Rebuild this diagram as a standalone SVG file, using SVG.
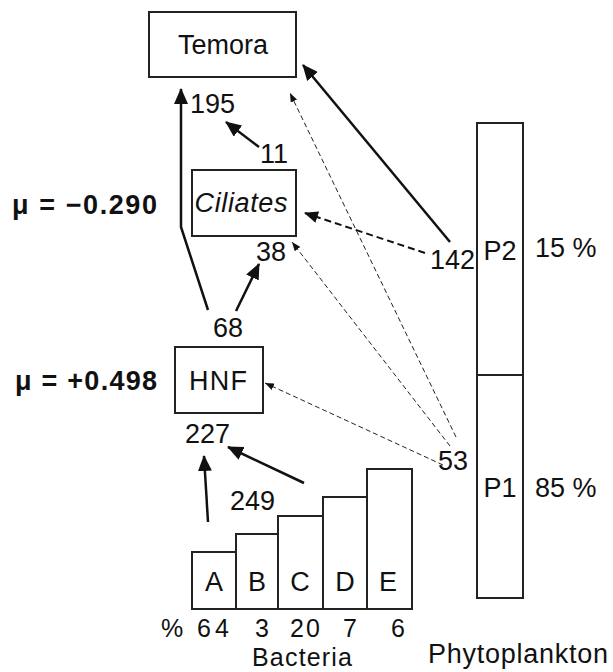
<svg xmlns="http://www.w3.org/2000/svg" width="613" height="672" viewBox="0 0 613 672">
<style>
text{font-family:"Comic Sans MS","Liberation Sans",sans-serif;font-size:27px;fill:#111}
.b{font-weight:bold}
.s{font-size:25px}
.box{fill:#fff;stroke:#222;stroke-width:2}
.solid{fill:none;stroke:#111;stroke-width:2.5}
.dash{fill:none;stroke:#111;stroke-width:2;stroke-dasharray:7 4}
.thin{fill:none;stroke:#222;stroke-width:1;stroke-dasharray:5 3}
</style>
<defs>
<marker id="big" markerUnits="userSpaceOnUse" markerWidth="16" markerHeight="14" refX="15" refY="7" orient="auto"><path d="M0,0 L16,7 L0,14 Z" fill="#111"/></marker>
<marker id="mid" markerUnits="userSpaceOnUse" markerWidth="14" markerHeight="12" refX="13" refY="6" orient="auto"><path d="M0,0 L14,6 L0,12 Z" fill="#111"/></marker>
<marker id="small" markerUnits="userSpaceOnUse" markerWidth="9" markerHeight="7" refX="9" refY="3.5" orient="auto"><path d="M0,0 L9,3.5 L0,7 Z" fill="#111"/></marker>
</defs>
<g id="connectors">
<polyline class="solid" points="208,310 181,227 181,89" marker-end="url(#big)"/>
<line class="solid" x1="259" y1="147" x2="226" y2="122" marker-end="url(#big)"/>
<line class="solid" x1="236" y1="311" x2="259" y2="264" marker-end="url(#big)"/>
<line class="solid" x1="208" y1="522" x2="204" y2="456" marker-end="url(#big)"/>
<line class="solid" x1="304" y1="483" x2="228" y2="447" marker-end="url(#big)"/>
<line class="solid" x1="450" y1="242" x2="303" y2="65" marker-end="url(#big)"/>
<line class="dash" x1="425" y1="253" x2="305" y2="213" marker-end="url(#mid)"/>
<line class="thin" x1="456" y1="437" x2="290" y2="93" marker-end="url(#small)"/>
<line class="thin" x1="450" y1="446" x2="292" y2="242" marker-end="url(#small)"/>
<line class="thin" x1="443" y1="465" x2="265" y2="383" marker-end="url(#small)"/>
</g>
<g id="temora">
<rect class="box" x="149" y="12" width="147" height="65"/>
<text x="223" y="54" text-anchor="middle">Temora</text>
<text x="190" y="113">195</text>
<text x="260" y="163">11</text>
</g>
<g id="ciliates">
<rect class="box" x="192" y="170" width="104" height="66"/>
<text x="241" y="212" text-anchor="middle" font-style="italic" textLength="93">Ciliates</text>
<text x="256" y="261">38</text>
<text class="b" x="12" y="214" textLength="145">μ = −0.290</text>
</g>
<g id="hnf">
<rect class="box" x="175" y="347" width="88" height="66"/>
<text x="218" y="390" text-anchor="middle" textLength="58">HNF</text>
<text x="213" y="337">68</text>
<text x="185" y="443">227</text>
<text class="b" x="15" y="390" textLength="142">μ = +0.498</text>
</g>
<g id="bacteria">
<rect class="box" x="192" y="552" width="44" height="57"/>
<rect class="box" x="236" y="534" width="42" height="75"/>
<rect class="box" x="278" y="516" width="45" height="93"/>
<rect class="box" x="323" y="497" width="44" height="112"/>
<rect class="box" x="367" y="469" width="45" height="140"/>
<text x="214" y="591" text-anchor="middle">A</text>
<text x="257" y="591" text-anchor="middle">B</text>
<text x="300" y="591" text-anchor="middle">C</text>
<text x="345" y="591" text-anchor="middle">D</text>
<text x="388" y="591" text-anchor="middle">E</text>
<text x="230" y="510">249</text>
<text class="s" x="161" y="637">%</text>
<text class="s" x="197" y="637" textLength="32">64</text>
<text class="s" x="255" y="637">3</text>
<text class="s" x="290" y="637" textLength="30">20</text>
<text class="s" x="343" y="637">7</text>
<text class="s" x="391" y="637">6</text>
<text class="s" x="302" y="666" text-anchor="middle" textLength="100">Bacteria</text>
</g>
<g id="phytoplankton">
<rect class="box" x="477" y="123" width="46" height="252"/>
<rect class="box" x="477" y="375" width="46" height="223"/>
<text x="500" y="260" text-anchor="middle">P2</text>
<text x="500" y="497" text-anchor="middle">P1</text>
<text x="535" y="257">15 %</text>
<text x="535" y="497">85 %</text>
<text x="430" y="269">142</text>
<text x="438" y="470">53</text>
<text x="428" y="663" textLength="180">Phytoplankton</text>
</g>
</svg>
